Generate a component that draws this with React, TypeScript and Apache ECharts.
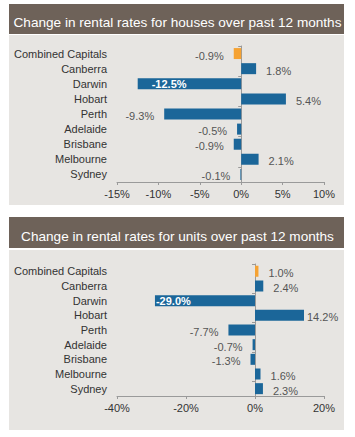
import React, { useEffect, useRef } from "react";
import * as echarts from "echarts";

const categories = ["Combined Capitals", "Canberra", "Darwin", "Hobart", "Perth", "Adelaide", "Brisbane", "Melbourne", "Sydney"];
const housesValues = [-0.9, 1.8, -12.5, 5.4, -9.3, -0.5, -0.9, 2.1, -0.1];
const unitsValues = [1.0, 2.4, -29.0, 14.2, -7.7, -0.7, -1.3, 1.6, 2.3];
const housesTitle = "Change in rental rates for houses over past 12 months";
const unitsTitle = "Change in rental rates for units over past 12 months";
const housesAxis = { min: -15, max: 10, interval: 5 };
const unitsAxis = { min: -40, max: 20, interval: 20 };

const BLUE = "#1b6699";
const ORANGE = "#f5a232";
const FONT = "'Liberation Sans', Arial, Helvetica, sans-serif";

function buildData(values: number[], insideDist: number, max: number) {
  return values.map((v, i) => {
    const inside = Math.abs(v) > 10 && v < 0;
    const nearEdge = v > 0.6 * max;
    return {
      value: v,
      itemStyle: { color: i === 0 ? ORANGE : BLUE },
      label: inside
        ? { show: true, position: "insideLeft", distance: insideDist, color: "#ffffff", fontWeight: "bold", offset: [0, 0] }
        : { show: true, position: v >= 0 ? "right" : "left", distance: nearEdge ? 3 : 10, color: "#555555", offset: [0, 2] },
    };
  });
}

export default function App() {
  const ref = useRef<HTMLDivElement>(null);
  useEffect(() => {
    if (!ref.current) return;
    const chart = echarts.init(ref.current, null, { renderer: "svg" });
    const axisLineStyle = { color: "#9a9a9a", width: 1 };
    const valueAxis = (gridIndex: number, cfg: { min: number; max: number; interval: number }) => ({
      type: "value",
      gridIndex,
      min: cfg.min,
      max: cfg.max,
      interval: cfg.interval,
      axisLine: { show: true, onZero: false, lineStyle: axisLineStyle },
      axisTick: { show: true, length: 3, lineStyle: axisLineStyle },
      splitLine: { show: false },
      axisLabel: { formatter: "{value}%", color: "#333333", fontSize: 11, fontFamily: FONT, margin: 6 },
    });
    const zeroAxis = (gridIndex: number) => ({
      type: "category",
      gridIndex,
      data: categories,
      inverse: true,
      position: "left",
      axisLine: { show: true, onZero: true, lineStyle: axisLineStyle },
      axisTick: { show: true, length: 3, lineStyle: axisLineStyle },
      axisLabel: { show: false },
    });
    const labelAxis = (gridIndex: number) => ({
      type: "category",
      gridIndex,
      data: categories,
      inverse: true,
      position: "left",
      axisLine: { show: false, onZero: false },
      axisTick: { show: false },
      axisLabel: { show: true, color: "#333333", fontSize: 11, fontFamily: FONT, margin: 10 },
    });
    const labelStyle = { fontSize: 11, fontFamily: FONT };
    chart.setOption({
      animation: false,
      backgroundColor: "#ffffff",
      textStyle: { fontFamily: FONT },
      graphic: [
        { type: "rect", shape: { x: 9, y: 4, width: 335, height: 30 }, style: { fill: "#6e6259" }, z: -10 },
        { type: "rect", shape: { x: 9, y: 35, width: 335, height: 170 }, style: { fill: "#e7e5e2" }, z: -10 },
        { type: "rect", shape: { x: 9, y: 217, width: 335, height: 31 }, style: { fill: "#6e6259" }, z: -10 },
        { type: "rect", shape: { x: 9, y: 250, width: 335, height: 180 }, style: { fill: "#e7e5e2" }, z: -10 },
      ],
      title: [
        { text: housesTitle, left: "center", top: 10, textStyle: { color: "#ffffff", fontSize: 13.6, fontWeight: "normal", fontFamily: FONT } },
        { text: unitsTitle, left: "center", top: 224, textStyle: { color: "#ffffff", fontSize: 13.6, fontWeight: "normal", fontFamily: FONT } },
      ],
      grid: [
        { left: 117, right: 31, top: 46, height: 136 },
        { left: 117, right: 31, top: 264, height: 132 },
      ],
      xAxis: [valueAxis(0, housesAxis), valueAxis(1, unitsAxis)],
      yAxis: [zeroAxis(0), labelAxis(0), zeroAxis(1), labelAxis(1)],
      series: [
        {
          type: "bar",
          xAxisIndex: 0,
          yAxisIndex: 0,
          barWidth: 11,
          data: buildData(housesValues, 14, housesAxis.max),
          label: { show: true, formatter: (p: any) => `${p.value.toFixed(1)}%`, ...labelStyle },
        },
        {
          type: "bar",
          xAxisIndex: 1,
          yAxisIndex: 2,
          barWidth: 11,
          data: buildData(unitsValues, 1, unitsAxis.max),
          label: { show: true, formatter: (p: any) => `${p.value.toFixed(1)}%`, ...labelStyle },
        },
      ],
    });
    return () => chart.dispose();
  }, []);
  return <div ref={ref} style={{ position: "fixed", left: 0, top: 0, width: 355, height: 437 }} />;
}
